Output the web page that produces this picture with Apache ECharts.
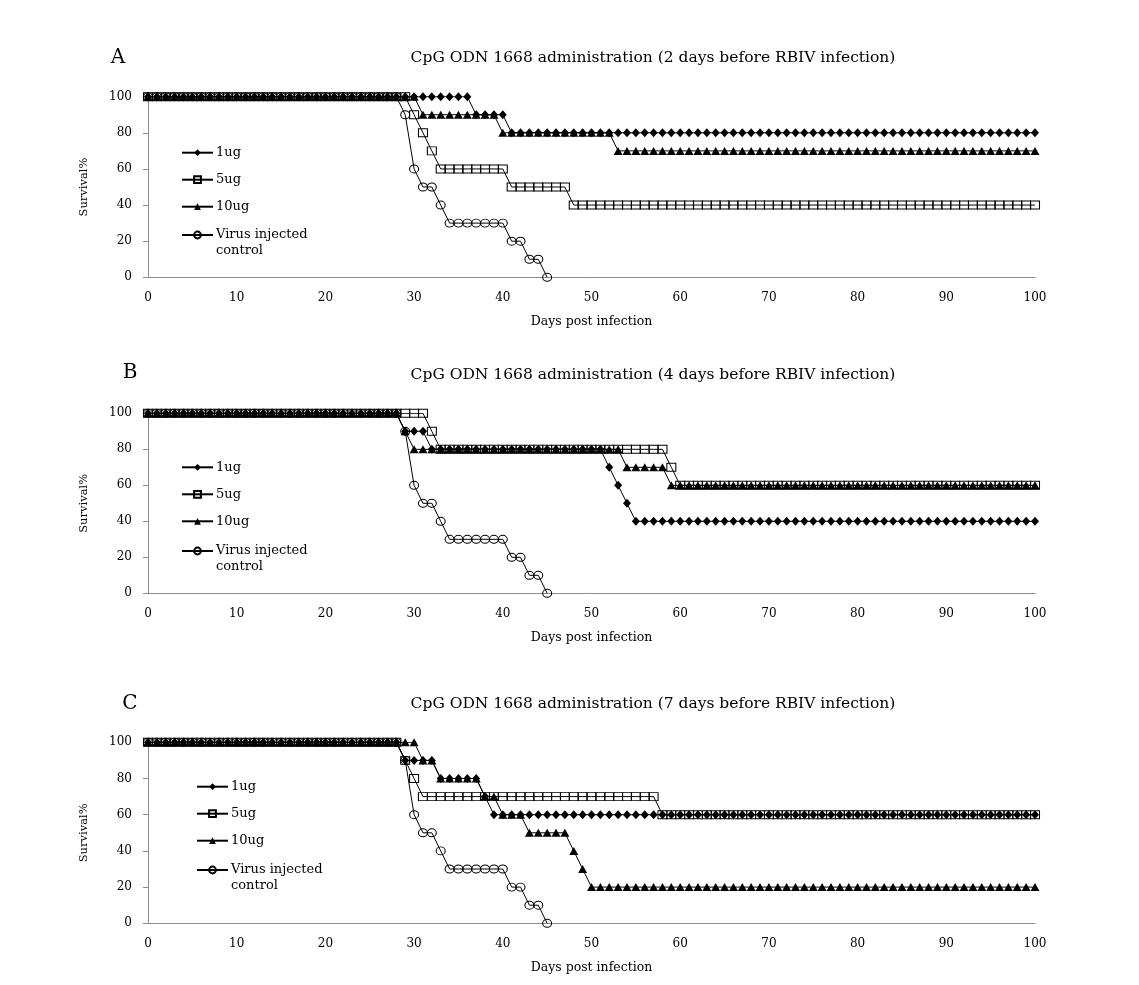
<!DOCTYPE html>
<html>
<head>
<meta charset="utf-8">
<script src="https://cdn.jsdelivr.net/npm/echarts@6/dist/echarts.min.js"></script>
<style>
html,body{margin:0;padding:0;background:#fff;}
#chart{width:1139px;height:985px;}
</style>
</head>
<body>
<div id="chart"></div>
<script>
// ---- Data ----
const days = [0,1,2,3,4,5,6,7,8,9,10,11,12,13,14,15,16,17,18,19,20,21,22,23,24,25,26,27,28,29,30,31,32,33,34,35,36,37,38,39,40,41,42,43,44,45,46,47,48,49,50,51,52,53,54,55,56,57,58,59,60,61,62,63,64,65,66,67,68,69,70,71,72,73,74,75,76,77,78,79,80,81,82,83,84,85,86,87,88,89,90,91,92,93,94,95,96,97,98,99,100];
const xTicks = [0,10,20,30,40,50,60,70,80,90,100];
const yTicks = [0,20,40,60,80,100];
const seriesNames = ['1ug','5ug','10ug','Virus injected\ncontrol'];
const panelLetters = ['A','B','C'];
const panelTitles = [
  'CpG ODN 1668 administration (2 days before RBIV infection)',
  'CpG ODN 1668 administration (4 days before RBIV infection)',
  'CpG ODN 1668 administration (7 days before RBIV infection)'
];

// Panel A
const A_1ug = [100,100,100,100,100,100,100,100,100,100,
100,100,100,100,100,100,100,100,100,100,
100,100,100,100,100,100,100,100,100,100,
100,100,100,100,100,100,100,90,90,90,
90,80,80,80,80,80,80,80,80,80,
80,80,80,80,80,80,80,80,80,80,
80,80,80,80,80,80,80,80,80,80,
80,80,80,80,80,80,80,80,80,80,
80,80,80,80,80,80,80,80,80,80,
80,80,80,80,80,80,80,80,80,80,
80];
const A_5ug = [100,100,100,100,100,100,100,100,100,100,
100,100,100,100,100,100,100,100,100,100,
100,100,100,100,100,100,100,100,100,100,
90,80,70,60,60,60,60,60,60,60,
60,50,50,50,50,50,50,50,40,40,
40,40,40,40,40,40,40,40,40,40,
40,40,40,40,40,40,40,40,40,40,
40,40,40,40,40,40,40,40,40,40,
40,40,40,40,40,40,40,40,40,40,
40,40,40,40,40,40,40,40,40,40,
40];
const A_10ug = [100,100,100,100,100,100,100,100,100,100,
100,100,100,100,100,100,100,100,100,100,
100,100,100,100,100,100,100,100,100,100,
100,90,90,90,90,90,90,90,90,90,
80,80,80,80,80,80,80,80,80,80,
80,80,80,70,70,70,70,70,70,70,
70,70,70,70,70,70,70,70,70,70,
70,70,70,70,70,70,70,70,70,70,
70,70,70,70,70,70,70,70,70,70,
70,70,70,70,70,70,70,70,70,70,
70];
const A_virus = [100,100,100,100,100,100,100,100,100,100,
100,100,100,100,100,100,100,100,100,100,
100,100,100,100,100,100,100,100,100,90,
60,50,50,40,30,30,30,30,30,30,
30,20,20,10,10,0];

// Panel B
const B_1ug = [100,100,100,100,100,100,100,100,100,100,
100,100,100,100,100,100,100,100,100,100,
100,100,100,100,100,100,100,100,100,90,
90,90,80,80,80,80,80,80,80,80,
80,80,80,80,80,80,80,80,80,80,
80,80,70,60,50,40,40,40,40,40,
40,40,40,40,40,40,40,40,40,40,
40,40,40,40,40,40,40,40,40,40,
40,40,40,40,40,40,40,40,40,40,
40,40,40,40,40,40,40,40,40,40,
40];
const B_5ug = [100,100,100,100,100,100,100,100,100,100,
100,100,100,100,100,100,100,100,100,100,
100,100,100,100,100,100,100,100,100,100,
100,100,90,80,80,80,80,80,80,80,
80,80,80,80,80,80,80,80,80,80,
80,80,80,80,80,80,80,80,80,70,
60,60,60,60,60,60,60,60,60,60,
60,60,60,60,60,60,60,60,60,60,
60,60,60,60,60,60,60,60,60,60,
60,60,60,60,60,60,60,60,60,60,
60];
const B_10ug = [100,100,100,100,100,100,100,100,100,100,
100,100,100,100,100,100,100,100,100,100,
100,100,100,100,100,100,100,100,100,90,
80,80,80,80,80,80,80,80,80,80,
80,80,80,80,80,80,80,80,80,80,
80,80,80,80,70,70,70,70,70,60,
60,60,60,60,60,60,60,60,60,60,
60,60,60,60,60,60,60,60,60,60,
60,60,60,60,60,60,60,60,60,60,
60,60,60,60,60,60,60,60,60,60,
60];
const B_virus = [100,100,100,100,100,100,100,100,100,100,
100,100,100,100,100,100,100,100,100,100,
100,100,100,100,100,100,100,100,100,90,
60,50,50,40,30,30,30,30,30,30,
30,20,20,10,10,0];

// Panel C
const C_1ug = [100,100,100,100,100,100,100,100,100,100,
100,100,100,100,100,100,100,100,100,100,
100,100,100,100,100,100,100,100,100,90,
90,90,90,80,80,80,80,80,70,60,
60,60,60,60,60,60,60,60,60,60,
60,60,60,60,60,60,60,60,60,60,
60,60,60,60,60,60,60,60,60,60,
60,60,60,60,60,60,60,60,60,60,
60,60,60,60,60,60,60,60,60,60,
60,60,60,60,60,60,60,60,60,60,
60];
const C_5ug = [100,100,100,100,100,100,100,100,100,100,
100,100,100,100,100,100,100,100,100,100,
100,100,100,100,100,100,100,100,100,90,
80,70,70,70,70,70,70,70,70,70,
70,70,70,70,70,70,70,70,70,70,
70,70,70,70,70,70,70,70,60,60,
60,60,60,60,60,60,60,60,60,60,
60,60,60,60,60,60,60,60,60,60,
60,60,60,60,60,60,60,60,60,60,
60,60,60,60,60,60,60,60,60,60,
60];
const C_10ug = [100,100,100,100,100,100,100,100,100,100,
100,100,100,100,100,100,100,100,100,100,
100,100,100,100,100,100,100,100,100,100,
100,90,90,80,80,80,80,80,70,70,
60,60,60,50,50,50,50,50,40,30,
20,20,20,20,20,20,20,20,20,20,
20,20,20,20,20,20,20,20,20,20,
20,20,20,20,20,20,20,20,20,20,
20,20,20,20,20,20,20,20,20,20,
20,20,20,20,20,20,20,20,20,20,
20];
const C_virus = [100,100,100,100,100,100,100,100,100,100,
100,100,100,100,100,100,100,100,100,100,
100,100,100,100,100,100,100,100,100,90,
60,50,50,40,30,30,30,30,30,30,
30,20,20,10,10,0];

const panels = [
  [A_1ug, A_5ug, A_10ug, A_virus],
  [B_1ug, B_5ug, B_10ug, B_virus],
  [C_1ug, C_5ug, C_10ug, C_virus]
];

// ---- Layout / style ----
const FONT = '"DejaVu Serif", "Liberation Serif", serif';
const AXIS_COLOR = '#8c8c8c';
const gridTops = [96.7, 413.3, 742.3];
const gridHeights = [180.6, 180.0, 181.0];
const legendLefts = [181, 181, 196];
const legendTops = [145.2, 459.8, 779.2];
const virusLegendTops = [211.75, 527.75, 846.75];
const letterPos = [[118, 58], [130, 373], [130, 704]];
const titleY = [58, 375, 704];

const symbolDefs = [
  {symbol: 'diamond', size: [8, 9], filled: true},
  {symbol: 'rect', size: [9, 8], filled: false},
  {symbol: 'triangle', size: [9, 8], filled: true},
  {symbol: 'circle', size: [9, 8], filled: false}
];

const grids = [], xAxes = [], yAxes = [], series = [], legends = [], graphics = [];

for (let p = 0; p < 3; p++) {
  grids.push({left: 148, right: 104, top: gridTops[p], height: gridHeights[p], containLabel: false});
  xAxes.push({
    type: 'value', gridIndex: p, min: 0, max: 100, interval: 10,
    name: 'Days post infection', nameLocation: 'middle', nameGap: 38,
    nameTextStyle: {fontFamily: FONT, fontSize: 12.5, color: '#000'},
    axisLine: {show: true, lineStyle: {color: AXIS_COLOR, width: 1}},
    axisTick: {show: false},
    splitLine: {show: false},
    axisLabel: {fontFamily: FONT, fontSize: 12, color: '#000', margin: 15,
      formatter: v => xTicks.indexOf(v) >= 0 ? String(v) : ''}
  });
  yAxes.push({
    type: 'value', gridIndex: p, min: 0, max: 100, interval: 20,
    name: 'Survival%', nameLocation: 'middle', nameGap: 58, nameRotate: 90,
    nameTextStyle: {fontFamily: FONT, fontSize: 11.5, color: '#000'},
    axisLine: {show: true, lineStyle: {color: AXIS_COLOR, width: 1}},
    axisTick: {show: true, inside: false, length: 5, lineStyle: {color: AXIS_COLOR}},
    splitLine: {show: false},
    axisLabel: {fontFamily: FONT, fontSize: 12, color: '#000', margin: 16,
      formatter: v => yTicks.indexOf(v) >= 0 ? String(v) : ''}
  });
  panels[p].forEach((vals, s) => {
    const d = symbolDefs[s];
    series.push({
      type: 'line', name: seriesNames[s], xAxisIndex: p, yAxisIndex: p,
      data: vals.map((v, i) => [days[i], v]),
      symbol: d.symbol, symbolSize: d.size, showSymbol: true, showAllSymbol: true,
      lineStyle: {color: '#000', width: 1},
      itemStyle: d.filled ? {color: '#000', borderWidth: 0}
                          : {color: 'rgba(255,255,255,0)', borderColor: '#000', borderWidth: 1},
      emphasis: {disabled: true},
      animation: false,
      z: 2 + s
    });
  });
  legends.push({
    orient: 'vertical', left: legendLefts[p], top: legendTops[p], padding: 0,
    itemWidth: 31, itemHeight: 8.5, itemGap: 12, selectedMode: false,
    data: seriesNames.slice(0, 3),
    textStyle: {fontFamily: FONT, fontSize: 13, color: '#000', lineHeight: 15, padding: [0, 0, 0, -2]}
  });
  legends.push({
    orient: 'vertical', left: legendLefts[p], top: virusLegendTops[p], padding: 0,
    itemWidth: 31, itemHeight: 8.5, selectedMode: false,
    data: [seriesNames[3]],
    formatter: n => ' \n' + n,
    textStyle: {fontFamily: FONT, fontSize: 13, color: '#000', lineHeight: 15.5, padding: [0, 0, 0, -2]}
  });
  graphics.push({
    type: 'text', x: letterPos[p][0], y: letterPos[p][1],
    style: {text: panelLetters[p], font: '20px ' + FONT, fill: '#000',
      align: 'center', verticalAlign: 'middle', textAlign: 'center', textVerticalAlign: 'middle'}
  });
  graphics.push({
    type: 'text', x: 653, y: titleY[p],
    style: {text: panelTitles[p], font: '15.5px ' + FONT, fill: '#000',
      align: 'center', verticalAlign: 'middle', textAlign: 'center', textVerticalAlign: 'middle'}
  });
}

const chart = echarts.init(document.getElementById('chart'), null, {renderer: 'canvas'});
chart.setOption({
  backgroundColor: '#fff',
  animation: false,
  grid: grids,
  xAxis: xAxes,
  yAxis: yAxes,
  legend: legends,
  series: series,
  graphic: graphics
});
</script>
</body>
</html>
